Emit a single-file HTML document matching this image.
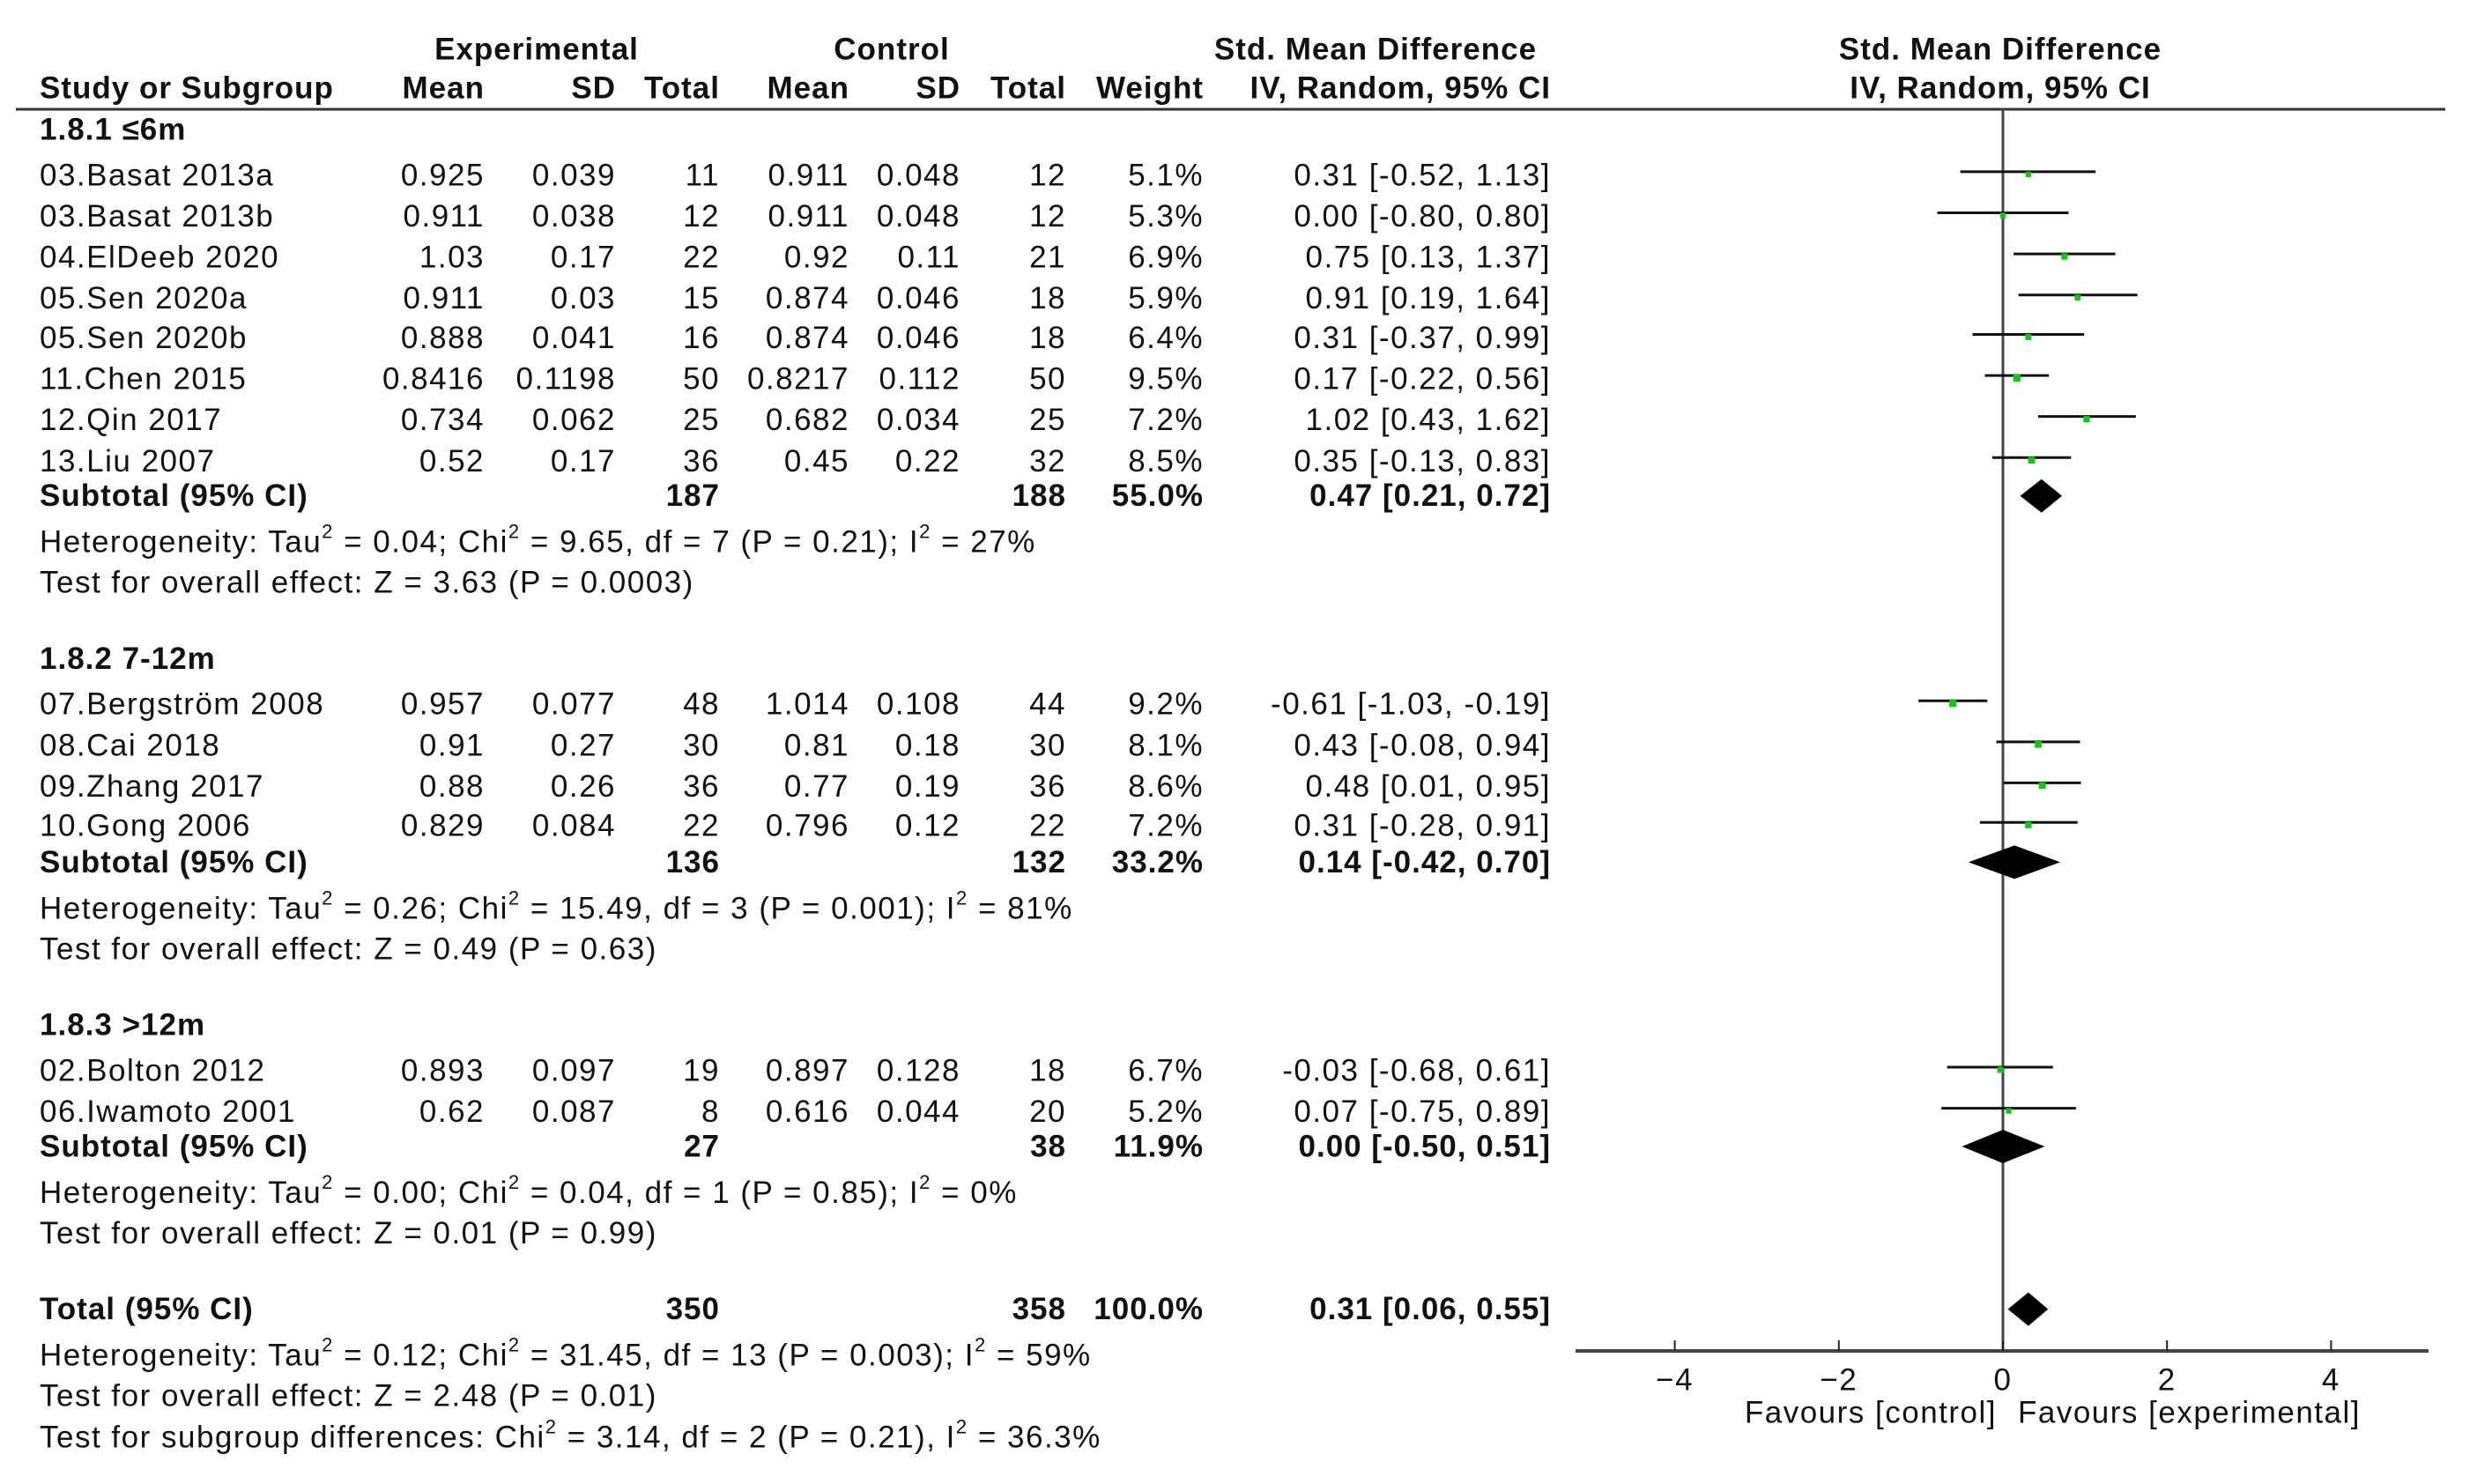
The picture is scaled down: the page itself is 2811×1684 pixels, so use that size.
<!DOCTYPE html>
<html><head><meta charset="utf-8">
<style>
html,body{margin:0;padding:0;background:#fff;}
svg{display:block;font-family:"Liberation Sans",sans-serif;}
text{fill:#111;font-size:35px;letter-spacing:1.5px;}
.b{font-weight:bold;letter-spacing:1px;}
</style></head>
<body>
<svg id="chart" width="2811" height="1684" viewBox="0 0 2811 1684" xmlns="http://www.w3.org/2000/svg"></svg>
<script>
// ---- data ----
const studyNames=["03.Basat 2013a","03.Basat 2013b","04.ElDeeb 2020","05.Sen 2020a","05.Sen 2020b","11.Chen 2015","12.Qin 2017","13.Liu 2007","07.Bergström 2008","08.Cai 2018","09.Zhang 2017","10.Gong 2006","02.Bolton 2012","06.Iwamoto 2001"];
const studyGroup=[0,0,0,0,0,0,0,0,1,1,1,1,2,2];
const expMean=["0.925","0.911","1.03","0.911","0.888","0.8416","0.734","0.52","0.957","0.91","0.88","0.829","0.893","0.62"];
const expSD=["0.039","0.038","0.17","0.03","0.041","0.1198","0.062","0.17","0.077","0.27","0.26","0.084","0.097","0.087"];
const expN=[11,12,22,15,16,50,25,36,48,30,36,22,19,8];
const ctlMean=["0.911","0.911","0.92","0.874","0.874","0.8217","0.682","0.45","1.014","0.81","0.77","0.796","0.897","0.616"];
const ctlSD=["0.048","0.048","0.11","0.046","0.046","0.112","0.034","0.22","0.108","0.18","0.19","0.12","0.128","0.044"];
const ctlN=[12,12,21,18,18,50,25,32,44,30,36,22,18,20];
const weights=[5.1,5.3,6.9,5.9,6.4,9.5,7.2,8.5,9.2,8.1,8.6,7.2,6.7,5.2];
const smd=[0.31,0.00,0.75,0.91,0.31,0.17,1.02,0.35,-0.61,0.43,0.48,0.31,-0.03,0.07];
const ciLo=[-0.52,-0.80,0.13,0.19,-0.37,-0.22,0.43,-0.13,-1.03,-0.08,0.01,-0.28,-0.68,-0.75];
const ciHi=[1.13,0.80,1.37,1.64,0.99,0.56,1.62,0.83,-0.19,0.94,0.95,0.91,0.61,0.89];
const groupTitles=["1.8.1 ≤6m","1.8.2 7-12m","1.8.3 >12m"];
const subExpN=[187,136,27], subCtlN=[188,132,38], subW=["55.0%","33.2%","11.9%"];
const subEst=[0.47,0.14,0.00], subLo=[0.21,-0.42,-0.50], subHi=[0.72,0.70,0.51];
const subHet=[["0.04","9.65","7","0.21","27%"],["0.26","15.49","3","0.001","81%"],["0.00","0.04","1","0.85","0%"]];
const subZ=[["3.63","0.0003"],["0.49","0.63"],["0.01","0.99"]];
const totExpN=350, totCtlN=358, totEst=0.31, totLo=0.06, totHi=0.55;
const axisTicks=[-4,-2,0,2,4];

// ---- layout ----
const S=1.792;
const svg=document.getElementById('chart');
const NS='http://www.w3.org/2000/svg';
const X0=2273, PU=93.1;
const xs=v=>X0+v*PU;
const COL={name:45,em:550,esd:699,en:817,cm:964,csd:1090,cn:1210,w:1366,ci:1760};
function el(tag,attrs,parent){const e=document.createElementNS(NS,tag);for(const k in attrs)e.setAttribute(k,attrs[k]);(parent||svg).appendChild(e);return e;}
function txt(s,x,y,anchor,bold,name){
  const t=el('text',{x:x,y:y,'text-anchor':anchor||'start','dominant-baseline':'central'});
  if(bold)t.setAttribute('class','b');
  t.textContent=s;
  
  
  return t;
}
function sup(parts,x,y,name){
  const t=el('text',{x:x,y:y,'dominant-baseline':'central'});
  
  
  parts.forEach((p,i)=>{const ts=el('tspan',{},t);if(i%2===1){ts.setAttribute('dy','-12');ts.setAttribute('font-size','22');}else if(i>0){ts.setAttribute('dy','12');}ts.textContent=p;});
  return t;
}
const f2=v=>v.toFixed(2);
const ciStr=(e,l,h)=>f2(e)+" ["+f2(l)+", "+f2(h)+"]";

// headers
txt("Experimental",609,56,'middle',true,'experimental-header');
txt("Control",1012,56,'middle',true,'control-header');
txt("Std. Mean Difference",1561,56,'middle',true,'smd-header');
txt("Std. Mean Difference",2270,56,'middle',true,'plot-smd-header');
const hy=100;
txt("Study or Subgroup",COL.name,hy,'start',true,'study-header');
txt("Mean",COL.em,hy,'end',true,'exp-mean-header');
txt("SD",COL.esd,hy,'end',true,'exp-sd-header');
txt("Total",COL.en,hy,'end',true,'exp-total-header');
txt("Mean",COL.cm,hy,'end',true,'ctl-mean-header');
txt("SD",COL.csd,hy,'end',true,'ctl-sd-header');
txt("Total",COL.cn,hy,'end',true,'ctl-total-header');
txt("Weight",COL.w,hy,'end',true,'weight-header');
txt("IV, Random, 95% CI",COL.ci,hy,'end',true,'ci-header');
txt("IV, Random, 95% CI",2270,hy,'middle',true,'plot-ci-header');
const rule=el('line',{x1:18,y1:124,x2:2775,y2:124,stroke:'#333','stroke-width':3});



// zero line & axis
const AXY=1533;
const zl=el('line',{x1:xs(0),y1:124,x2:xs(0),y2:AXY,stroke:'#444','stroke-width':3});


const ax=el('line',{x1:1788,y1:AXY,x2:2756,y2:AXY,stroke:'#444','stroke-width':4});


axisTicks.forEach(v=>{
  const tk=el('line',{x1:xs(v),y1:AXY-12,x2:xs(v),y2:AXY,stroke:'#222','stroke-width':2});
  
  
  txt(v<0?"−"+Math.abs(v):String(v),xs(v),1566,'middle',false,'x-tick-label');
});
txt("Favours [control]",2266,1603,'end',false,'favours-control-label');
txt("Favours [experimental]",2290,1603,'start',false,'favours-experimental-label');

// rows (display-space y positions)
const titleY=[82,417,649], subY=[314,546,726], hetY=[343,575,755], testY=[369,601,781];
const studyY=[111,137,163,189,214,240,266,292,446,472,498,523,678,704];
function diamond(e,l,h,y,name){
  const d=el('polygon',{points:`${xs(l)},${y} ${xs(e)},${y-19} ${xs(h)},${y} ${xs(e)},${y+19}`,fill:'#000'});
  
  
}
for(let g=0;g<3;g++){
  txt(groupTitles[g],COL.name,titleY[g]*S,'start',true,'subgroup-title');
}
studyNames.forEach((n,i)=>{
  const y=studyY[i]*S;
  txt(n,COL.name,y,'start',false,'study-name');
  txt(expMean[i],COL.em,y,'end',false,'exp-mean');
  txt(expSD[i],COL.esd,y,'end',false,'exp-sd');
  txt(String(expN[i]),COL.en,y,'end',false,'exp-total');
  txt(ctlMean[i],COL.cm,y,'end',false,'ctl-mean');
  txt(ctlSD[i],COL.csd,y,'end',false,'ctl-sd');
  txt(String(ctlN[i]),COL.cn,y,'end',false,'ctl-total');
  txt(weights[i].toFixed(1)+"%",COL.w,y,'end',false,'weight');
  txt(ciStr(smd[i],ciLo[i],ciHi[i]),COL.ci,y,'end',false,'study-ci');
  const ly=y-4;
  const ln=el('line',{x1:xs(ciLo[i]),y1:ly,x2:xs(ciHi[i]),y2:ly,stroke:'#111','stroke-width':3});
  
  
  const sz=4+weights[i]*0.45;
  const sq=el('rect',{x:xs(smd[i])-sz/2,y:ly-sz/2+3,width:sz,height:sz,fill:'#11c811'});
  
  
});
for(let g=0;g<3;g++){
  const y=subY[g]*S;
  txt("Subtotal (95% CI)",COL.name,y,'start',true,'subtotal-label');
  txt(String(subExpN[g]),COL.en,y,'end',true,'subtotal-exp-n');
  txt(String(subCtlN[g]),COL.cn,y,'end',true,'subtotal-ctl-n');
  txt(subW[g],COL.w,y,'end',true,'subtotal-weight');
  txt(ciStr(subEst[g],subLo[g],subHi[g]),COL.ci,y,'end',true,'subtotal-ci');
  diamond(subEst[g],subLo[g],subHi[g],y,'subtotal-diamond');
  const h=subHet[g];
  sup(["Heterogeneity: Tau","2"," = "+h[0]+"; Chi","2"," = "+h[1]+", df = "+h[2]+" (P = "+h[3]+"); I","2"," = "+h[4]],COL.name,hetY[g]*S,'heterogeneity-text');
  txt("Test for overall effect: Z = "+subZ[g][0]+" (P = "+subZ[g][1]+")",COL.name,testY[g]*S,'start',false,'overall-effect-text');
}
const ty=829*S;
txt("Total (95% CI)",COL.name,ty,'start',true,'total-label');
txt(String(totExpN),COL.en,ty,'end',true,'total-exp-n');
txt(String(totCtlN),COL.cn,ty,'end',true,'total-ctl-n');
txt("100.0%",COL.w,ty,'end',true,'total-weight');
txt(ciStr(totEst,totLo,totHi),COL.ci,ty,'end',true,'total-ci');
diamond(totEst,totLo,totHi,ty,'total-diamond');
sup(["Heterogeneity: Tau","2"," = 0.12; Chi","2"," = 31.45, df = 13 (P = 0.003); I","2"," = 59%"],COL.name,858*S,'total-heterogeneity-text');
txt("Test for overall effect: Z = 2.48 (P = 0.01)",COL.name,884*S,'start',false,'total-overall-effect-text');
sup(["Test for subgroup differences: Chi","2"," = 3.14, df = 2 (P = 0.21), I","2"," = 36.3%"],COL.name,910*S,'subgroup-differences-text');
</script>
</body></html>
